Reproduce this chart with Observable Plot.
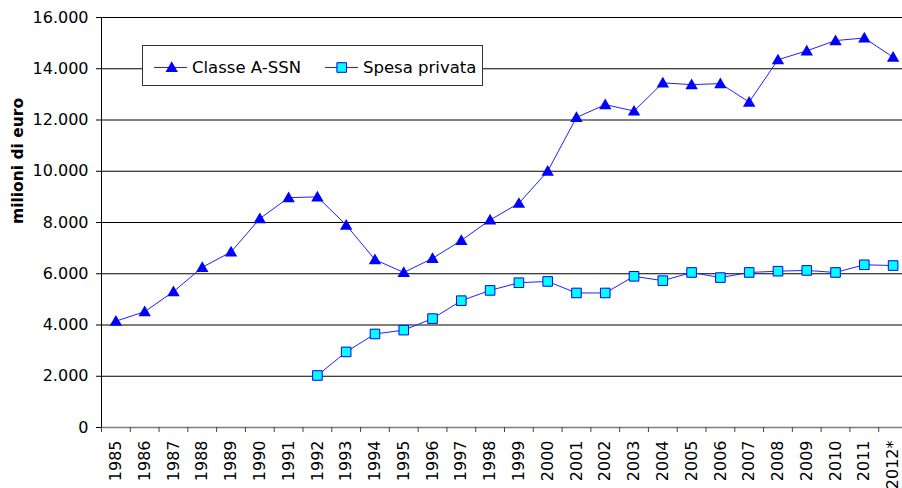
<!DOCTYPE html>
<html><head><meta charset="utf-8">
<script src="https://cdn.jsdelivr.net/npm/d3@7"></script>
<script src="https://cdn.jsdelivr.net/npm/@observablehq/plot@0.6"></script>
<style>
body{margin:0;background:#fff;font-family:"DejaVu Sans",Verdana,sans-serif;}
#wrap{position:relative;width:902px;height:488px;overflow:hidden;}
#legend{position:absolute;left:142px;top:45px;width:339px;height:39px;border:1px solid #333;background:#fff;}
#legend svg{display:block;}
</style></head><body>
<div id="wrap"><div id="legend"></div></div>
<script>
const years = ["1985","1986","1987","1988","1989","1990","1991","1992","1993","1994","1995","1996","1997","1998","1999","2000","2001","2002","2003","2004","2005","2006","2007","2008","2009","2010","2011","2012*"];
const classeA = [4150,4520,5300,6250,6850,8150,8970,9000,7900,6550,6050,6600,7300,8100,8750,10000,12100,12600,12350,13450,13380,13420,12700,14350,14700,15100,15200,14450];
const spesaPrivata = [null,null,null,null,null,null,null,2030,2950,3650,3800,4250,4950,5350,5650,5700,5250,5250,5900,5730,6050,5850,6050,6100,6130,6050,6350,6320];
const yTicks = [0,2000,4000,6000,8000,10000,12000,14000,16000];
const seriesNames = ["Classe A-SSN","Spesa privata"];

const fmt = d3.formatLocale({decimal:",",thousands:".",grouping:[3],currency:["",""]}).format(",");
const dataA = classeA.map((v,i)=>({i,v}));
const dataS = spesaPrivata.map((v,i)=>({i,v})).filter(d=>d.v!=null);
const idx = d3.range(years.length);
const bounds = d3.range(-0.5, years.length, 1);

const chart = Plot.plot({
  width: 902, height: 488,
  marginLeft: 101, marginRight: 0, marginTop: 17, marginBottom: 61,
  style: {fontFamily: "DejaVu Sans, Verdana, sans-serif", fontSize: "16px", color: "#000", background: "#fff"},
  x: {type: "linear", domain: [-0.5, years.length - 0.5], range: [101, 907]},
  y: {domain: [0, 16000]},
  marks: [
    Plot.ruleY(yTicks.filter(d=>d>0), {x1: -0.5, x2: years.length - 0.5, stroke: "#000", strokeWidth: 1}),
    Plot.ruleY([0], {x1: -0.5, x2: years.length - 0.5, stroke: "#808080", strokeWidth: 1.5}),
    Plot.ruleX([-0.5], {y1: 0, y2: 16000, stroke: "#000", strokeWidth: 1}),
    Plot.axisY({ticks: yTicks, tickFormat: fmt, tickSize: 5, tickPadding: 8, label: null, fontSize: 16, stroke: "#000"}),
    Plot.axisX({ticks: bounds, tickFormat: () => "", tickSize: 5, label: null, stroke: "#444"}),
    Plot.axisX({ticks: idx, tickFormat: i => years[i], tickSize: 0, tickPadding: 13, tickRotate: -90, label: null, fontSize: 16}),
    Plot.text(["milioni di euro"], {frameAnchor: "left", dx: -83.5, dy: 1.5, rotate: -90, fontWeight: "bold", fontSize: 15.5}),
    Plot.line(dataA, {x: "i", y: "v", stroke: "#2020ff", strokeWidth: 1}),
    Plot.line(dataS, {x: "i", y: "v", stroke: "#2020ff", strokeWidth: 1}),
    Plot.dot(dataA, {x: "i", y: "v", symbol: "triangle", r: 4.6, fill: "#0000ff", stroke: "none", dy: 1}),
    Plot.dot(dataS, {x: "i", y: "v", symbol: "square", r: 5.4, fill: "#00ffff", stroke: "#0000ff", strokeWidth: 1})
  ]
});
document.getElementById("wrap").prepend(chart);

// legend
const lg = d3.select("#legend").append("svg").attr("width", 339).attr("height", 39)
  .style("font-family", "DejaVu Sans, Verdana, sans-serif").style("font-size", "16.5px");
const items = [
  {x0: 11, x1: 44, mx: 28.7, tx: 49, name: seriesNames[0], sym: d3.symbolTriangle, size: 66, fill: "#0000ff", stroke: "none"},
  {x0: 182, x1: 215, mx: 198.7, tx: 220, name: seriesNames[1], sym: d3.symbolSquare, size: 92, fill: "#00ffff", stroke: "#0000ff"}
];
items.forEach(it => {
  lg.append("line").attr("x1", it.x0).attr("x2", it.x1).attr("y1", 21.5).attr("y2", 21.5).attr("stroke", "#2020ff");
  lg.append("path").attr("d", d3.symbol(it.sym, it.size)()).attr("transform", `translate(${it.mx},${it.sym === d3.symbolTriangle ? 22.5 : 21.5})`)
    .attr("fill", it.fill).attr("stroke", it.stroke);
  lg.append("text").attr("x", it.tx).attr("y", 27).attr("fill", "#000").text(it.name);
});
</script>
</body></html>
